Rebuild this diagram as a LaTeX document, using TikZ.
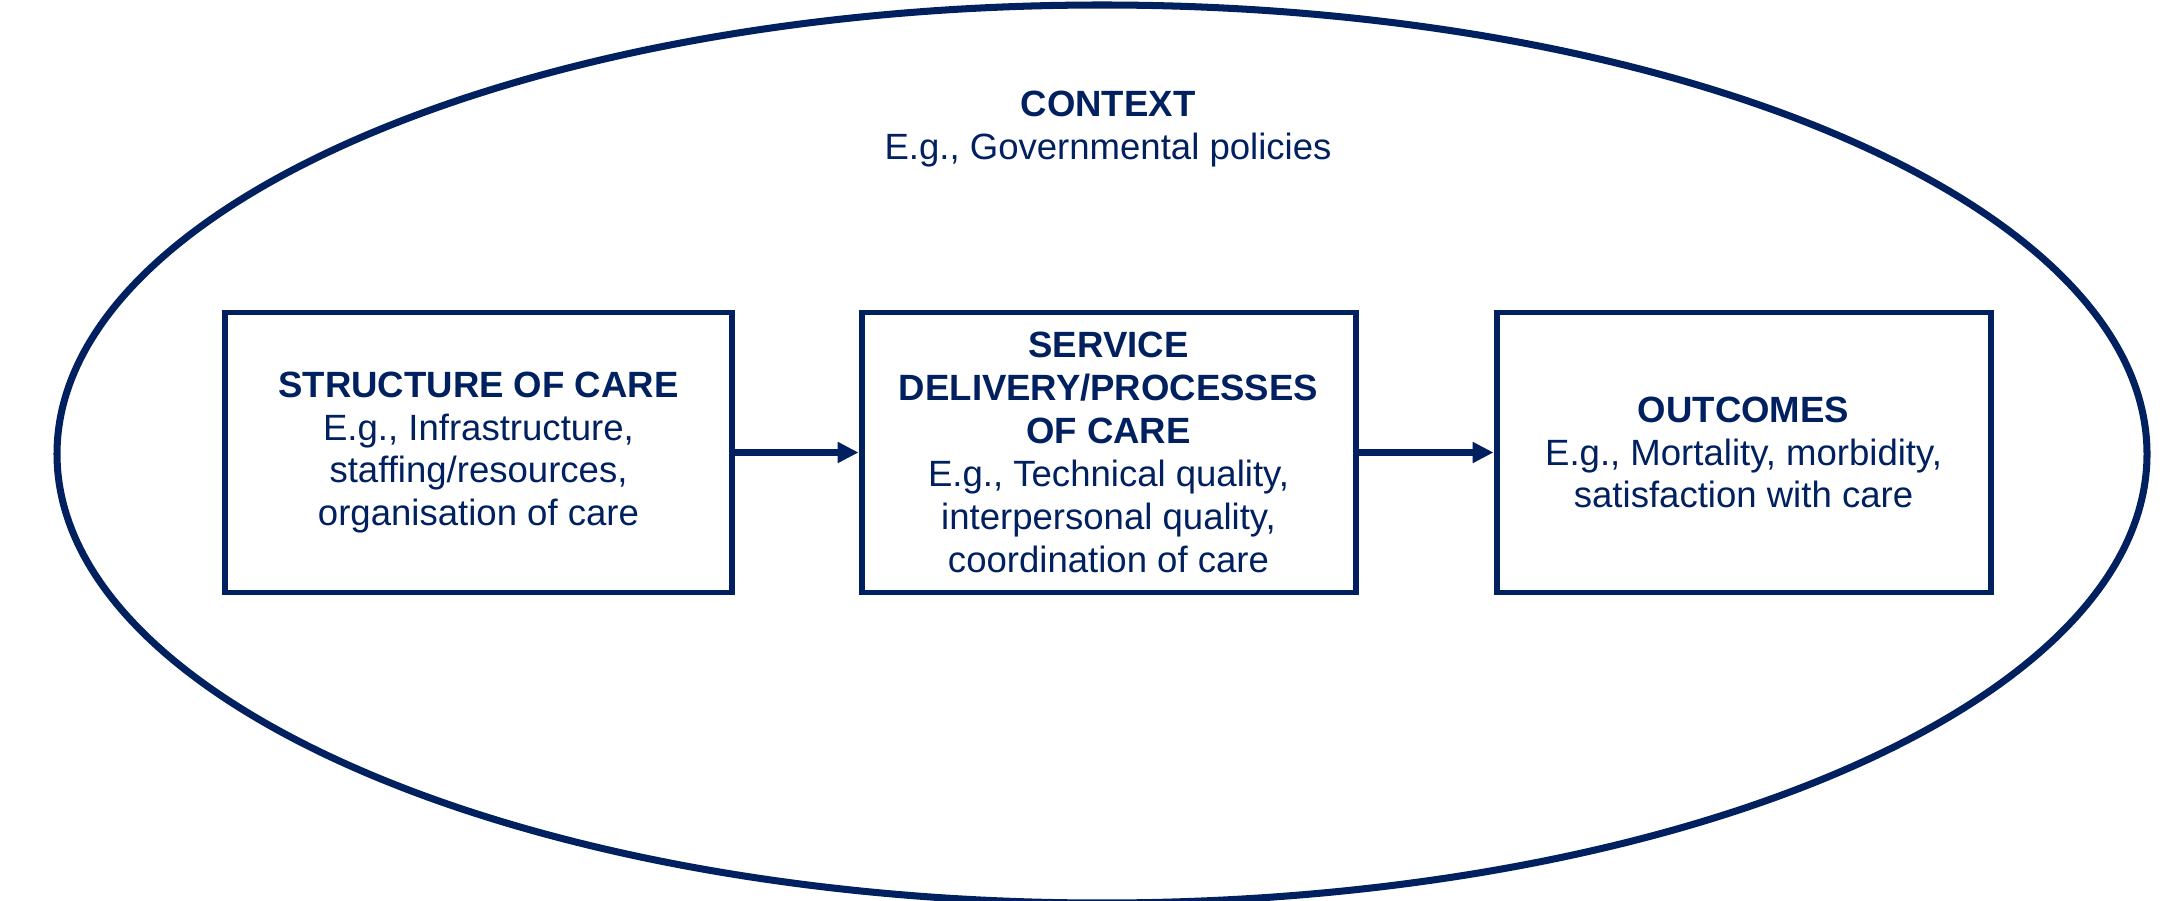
\documentclass[tikz,border=0pt]{standalone}
\usepackage{fontspec}
\setmainfont{Liberation Sans}
\usetikzlibrary{arrows.meta}
\definecolor{navy}{HTML}{002060}

\begin{document}
\begin{tikzpicture}
[node distance=6.3cm, font=\fontsize{10.4}{12.2}\selectfont, text=navy]
\tikzstyle{block}=[rectangle, draw=navy, line width=1.7pt, fill=white, align=center, minimum width=4.94cm, minimum height=2.80cm, inner sep=1mm]
\tikzstyle{flow}=[draw=navy, line width=1.8pt, -{Triangle[length=0.21cm, width=0.2cm]}]
\useasboundingbox (0,0) rectangle (21.8,9);

\draw[navy, line width=2pt] (11.02,4.46) ellipse [x radius=10.45, y radius=4.49];

\node			(ctx)		at (11.08,7.71) [align=center]{\textbf{CONTEXT}\\E.g., Governmental policies};

\node[block]	(struct)	at (4.785,4.475) [minimum width=5.07cm]{\textbf{STRUCTURE OF CARE}\\E.g., Infrastructure,\\staffing/resources,\\organisation of care};
\node[block]	(proc)		[right of=struct]{\textbf{SERVICE}\\\textbf{DELIVERY/PROCESSES}\\\textbf{OF CARE}\\E.g., Technical quality,\\interpersonal quality,\\coordination of care};
\node[block]	(out)		[right of=proc, xshift=0.05cm]{\textbf{OUTCOMES}\\E.g., Mortality, morbidity,\\satisfaction with care};

\draw[flow] (struct)--(proc);
\draw[flow] (proc)--(out);

\end{tikzpicture}
\end{document}
